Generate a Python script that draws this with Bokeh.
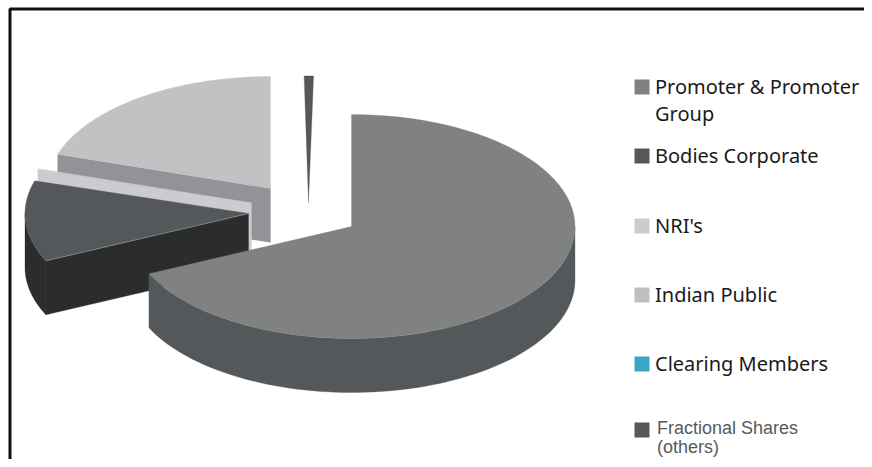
import numpy as np
from bokeh.plotting import figure
from bokeh.models import Range1d
from bokeh.core.properties import value
from bokeh.embed import file_html
from bokeh.resources import INLINE

# ---- data (percent of shareholding)
categories = ["Promoter & Promoter Group", "Bodies Corporate", "NRI's", "Indian Public", "Clearing Members", "Fractional Shares (others)"]
shares = [68.06, 11.66, 0.22, 20.06, 0.0, 0.6]

# ---- legend text lines
legend_lines = [["Promoter & Promoter", "Group"], ["Bodies Corporate"], ["NRI's"], ["Indian Public"], ["Clearing Members"], ["Fractional Shares", "(others)"]]

# ---- styles / layout
top_colors = ["#7f8281", "#55585a", "#cccbd0", "#c1c2c4", "#38a6c6", "#55585a"]
wall_colors = ["#55585a", "#2b2d2c", "#cccbd0", "#929396", "#38a6c6", "#55585a"]
legend_colors = ["#7f8281", "#55585a", "#cccbd0", "#bebfc1", "#38a6c6", "#58595b"]
centers = [(351, 226), (248, 213), (251, 202.5), (270, 188), (308, 202), (308, 202)]
RX, RY, DEPTH = 223.5, 112, 54
SLIVER_SCALE, SLIVER_TILT = 1.13, -1.0
legend_y = [86.5, 155.5, 225.5, 294.5, 363.5, 429.5]

p = figure(width=864, height=459, x_range=Range1d(0, 864), y_range=Range1d(459, 0),
           output_backend="svg", toolbar_location=None, min_border=0,
           background_fill_color="white", border_fill_color="white", outline_line_color=None)
p.axis.visible = False
p.grid.visible = False


def arc(i, a0, a1, scale=1.0, n=80):
    t = np.radians(np.linspace(a0, a1, n))
    cx, cy = centers[i]
    return cx + scale * RX * np.sin(t), cy - scale * RY * np.cos(t)


def wedge(i, a0, a1, color, scale=1.0):
    x, y = arc(i, a0, a1, scale)
    cx, cy = centers[i]
    p.patch(np.r_[cx, x], np.r_[cy, y], fill_color=color, line_color=color, line_width=0.3)


def radial_face(i, a, color):
    x, y = arc(i, a, a, n=2)
    cx, cy = centers[i]
    p.patch([cx, x[0], x[0], cx], [cy, y[0], y[0] + DEPTH, cy + DEPTH], fill_color=color, line_color=color, line_width=0.3)


def outer_wall(i, a0, a1, color):
    x, y = arc(i, a0, a1)
    p.patch(np.r_[x, x[::-1]], np.r_[y, y[::-1] + DEPTH], fill_color=color, line_color=color, line_width=0.3)


def seam(i, a, color):
    x, y = arc(i, a, a, n=2)
    cx, cy = centers[i]
    p.line([cx, x[0]], [cy, y[0]], line_color=color, line_width=0.8)


edges = np.cumsum([0.0] + shares) * 3.6
PROM, BODY, NRI, PUB, CLEAR, FRAC = range(6)

# Indian Public
radial_face(PUB, edges[PUB], wall_colors[PUB])
wedge(PUB, edges[PUB], edges[PUB + 1], top_colors[PUB])
# Fractional sliver
a0 = SLIVER_TILT
wedge(FRAC, a0, a0 + shares[FRAC] * 3.6, top_colors[FRAC], SLIVER_SCALE)
# NRI's
radial_face(NRI, edges[NRI], wall_colors[NRI])
wedge(NRI, edges[NRI], edges[NRI + 1], top_colors[NRI])
# Bodies Corporate
outer_wall(BODY, edges[BODY], 270, wall_colors[BODY])
radial_face(BODY, edges[BODY], wall_colors[BODY])
wedge(BODY, edges[BODY], edges[BODY + 1], top_colors[BODY])
seam(BODY, edges[BODY], "#8c8e8e")
# Promoter
outer_wall(PROM, 90, edges[PROM + 1], wall_colors[PROM])
wedge(PROM, 0, edges[PROM + 1], top_colors[PROM])

# Frame (open on the right and at the bottom)
p.line([9.5, 9.5, 864], [459, 8.5, 8.5], line_color="#111111", line_width=3)

# Legend
for i, (lines, ly) in enumerate(zip(legend_lines, legend_y)):
    p.rect([641.5], [ly], width=15, height=15, fill_color=legend_colors[i], line_color=None)
    arial = i == FRAC
    step = 19 if arial else 27
    base = ly - 2 if arial else ly - 1
    for j, t in enumerate(lines):
        p.text([656.5 if arial else 654.5], [base + j * step], text=[t], text_baseline="middle",
               text_font=value("Liberation Sans" if arial else "Noto Sans"),
               text_font_size="18px" if arial else "20px",
               text_color="#58595b" if arial else "#1a1a1a")

open("out.html", "w").write(file_html(p, INLINE))
